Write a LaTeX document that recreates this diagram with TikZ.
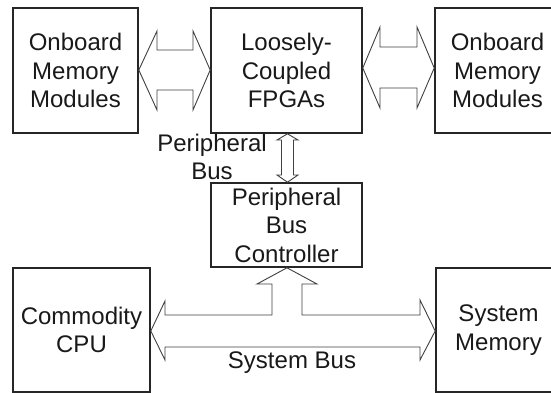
\documentclass[tikz,border=0pt]{standalone}
\usepackage{fontspec}
\setmainfont{Liberation Sans}
\begin{document}
\begin{tikzpicture}[x=1pt,y=-1pt,
  blk/.style={draw=black!85,line width=1.6pt,text=black!90,align=center,font=\fontsize{24}{28.5}\selectfont,inner sep=0pt},
  barrow/.style={draw=black!75,line width=0.9pt,fill=white,line join=miter},
  lbl/.style={text=black!90,align=center,font=\fontsize{24}{28.5}\selectfont,inner sep=0pt}]
\useasboundingbox (0,0) rectangle (551,393);
\fill[white] (0,0) rectangle (551,393);
% boxes
\node[blk,minimum width=125pt,minimum height=125pt] (mem1) at (75.5,70.5) {Onboard\\Memory\\Modules};
\node[blk,minimum width=151pt,minimum height=125pt] (fpga) at (286.5,70.5) {Loosely-\\Coupled\\FPGAs};
\node[blk,minimum width=125pt,minimum height=125pt,text width=125pt] (mem2) at (497.5,70.5) {Onboard\\Memory\\Modules};
\node[blk,minimum width=151pt,minimum height=84pt] (pbc) at (286.5,225) {Peripheral\\Bus\\Controller};
\node[blk,minimum width=137pt,minimum height=124pt] (cpu) at (81.5,330) {Commodity\\CPU};
\node[blk,minimum width=125pt,minimum height=124pt,text width=125pt] (smem) at (498.5,330) {System\\Memory};
% labels
\node[lbl] (pblabel) at (212,157) {Peripheral\\Bus};
\node[lbl] (sblabel) at (292,363) {System Bus};
% block arrows
\draw[barrow] (mem1.east |- 0,70) -- (157,31) -- (157,50) -- (193,50) -- (193,31) -- (fpga.west |- 0,70)
  -- (193,110) -- (193,90) -- (157,90) -- (157,110) -- cycle;
\draw[barrow] (fpga.east |- 0,68) -- (380,27) -- (380,47) -- (417,47) -- (417,27) -- (mem2.west |- 0,68)
  -- (417,108) -- (417,88) -- (380,88) -- (380,108) -- cycle;
\draw[barrow] (fpga.south -| 287.5,0) -- (298,140) -- (293.5,140) -- (293.5,175) -- (298,175) -- (pbc.north -| 287.5,0)
  -- (277,175) -- (281.5,175) -- (281.5,140) -- (277,140) -- cycle;
\draw[barrow] (cpu.east |- 0,331) -- (165,301) -- (165,315) -- (272,315) -- (272,284) -- (257,284) -- (pbc.south -| 287,0)
  -- (317,284) -- (302,284) -- (302,315) -- (420,315) -- (420,300) -- (smem.west |- 0,331)
  -- (420,360) -- (420,347) -- (165,347) -- (165,360) -- cycle;
\end{tikzpicture}
\end{document}
